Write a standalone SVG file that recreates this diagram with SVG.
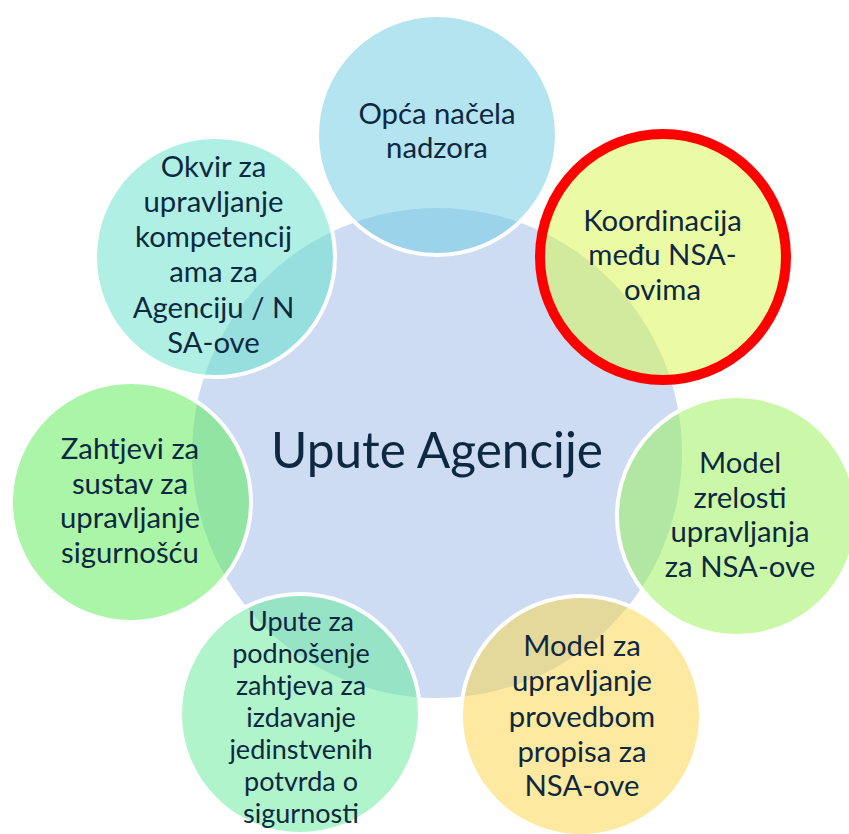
<svg xmlns="http://www.w3.org/2000/svg" width="849" height="834" viewBox="0 0 849 834">
<style>
  .hub { fill: #CDDCF2; }
  .c { stroke: #FFFFFF; stroke-width: 4; fill-opacity: 0.5; }
  .sel { stroke: #FF0000; stroke-width: 10; fill-opacity: 0.5; }
  text { font-family: Lato, "Liberation Sans", sans-serif; fill: #0E2841; text-anchor: middle; }
  .t { font-size: 29.3px; }
  .ts { font-size: 27px; }
  .big { font-size: 49.5px; }
</style>
<rect width="849" height="834" fill="#FFFFFF"/>
<g id="hub">
  <circle class="hub" cx="437" cy="453" r="245"/>
  <text class="big" x="437" y="468">Upute Agencije</text>
</g>
<g id="node-opca">
  <circle class="c" cx="437" cy="135" r="120" fill="#69C9E1"/>
  <text class="t" x="437" y="124">Opća načela</text>
  <text class="t" x="437" y="158">nadzora</text>
</g>
<g id="node-koordinacija">
  <circle class="sel" cx="663" cy="257" r="123" fill="#D7F747"/>
  <text class="t" x="662.5" y="231">Koordinacija</text>
  <text class="t" x="662.5" y="265">među NSA-</text>
  <text class="t" x="662.5" y="300">ovima</text>
</g>
<g id="node-zrelost">
  <circle class="c" cx="737" cy="516" r="120" fill="#95F151"/>
  <text class="t" x="740" y="473">Model</text>
  <text class="t" x="740" y="508">zrelosti</text>
  <text class="t" x="740" y="542">upravljanja</text>
  <text class="t" x="740" y="577">za NSA-ove</text>
</g>
<g id="node-provedba">
  <circle class="c" cx="581" cy="716" r="120" fill="#FBD341"/>
  <text class="t" x="582" y="656">Model za</text>
  <text class="t" x="582" y="691">upravljanje</text>
  <text class="t" x="582" y="726.5">provedbom</text>
  <text class="t" x="582" y="761.5">propisa za</text>
  <text class="t" x="582" y="796">NSA-ove</text>
</g>
<g id="node-upute">
  <circle class="c" cx="300" cy="714" r="120" fill="#61E999"/>
  <text class="ts" x="301" y="630.5">Upute za</text>
  <text class="ts" x="301" y="662.6">podnošenje</text>
  <text class="ts" x="301" y="694.7">zahtjeva za</text>
  <text class="ts" x="301" y="726.8">izdavanje</text>
  <text class="ts" x="301" y="758.9">jedinstvenih</text>
  <text class="ts" x="301" y="791">potvrda o</text>
  <text class="ts" x="301" y="823.1">sigurnosti</text>
</g>
<g id="node-zahtjevi">
  <circle class="c" cx="131" cy="502" r="120" fill="#55EB51"/>
  <text class="t" x="130" y="459">Zahtjevi za</text>
  <text class="t" x="130" y="493.5">sustav za</text>
  <text class="t" x="130" y="528">upravljanje</text>
  <text class="t" x="130" y="563">sigurnošću</text>
</g>
<g id="node-okvir">
  <circle class="c" cx="215" cy="257" r="120" fill="#61E1C9"/>
  <text class="t" x="213.5" y="177.3">Okvir za</text>
  <text class="t" x="213.5" y="212">upravljanje</text>
  <text class="t" x="213.5" y="246.5">kompetencij</text>
  <text class="t" x="213.5" y="282">ama za</text>
  <text class="t" x="213.5" y="317.5">Agenciju / N</text>
  <text class="t" x="213.5" y="353">SA-ove</text>
</g>
</svg>
